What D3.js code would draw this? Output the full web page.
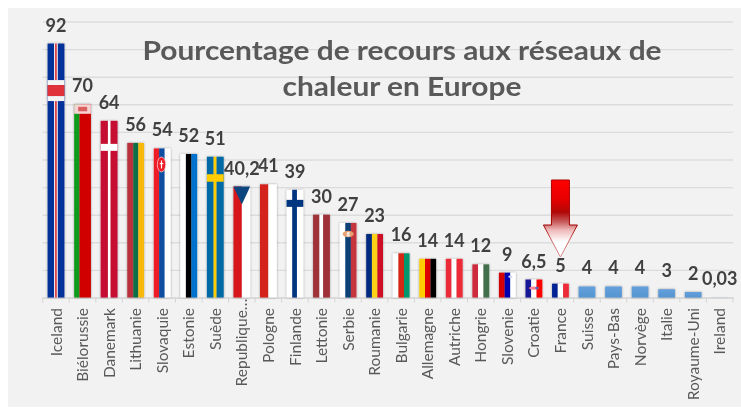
<!DOCTYPE html>
<html><head><meta charset="utf-8">
<script src="https://cdn.jsdelivr.net/npm/d3@7/dist/d3.min.js"></script>
<style>
html,body{margin:0;padding:0;background:#fff}
svg{display:block;filter:blur(0.35px)}
text{font-family:Lato,"Open Sans",sans-serif}
</style></head><body><div id="chart"></div>
<script>
const categories=["Iceland","Biélorussie","Danemark","Lithuanie","Slovaquie","Estonie","Suède","Republique…","Pologne","Finlande","Lettonie","Serbie","Roumanie","Bulgarie","Allemagne","Autriche","Hongrie","Slovenie","Croatie","France","Suisse","Pays-Bas","Norvège","Italie","Royaume-Uni","Ireland"];
const values=[92,70,64,56,54,52,51,40.2,41,39,30,27,23,16,14,14,12,9,6.5,5,4,4,4,3,2,0.03];
const valueLabels=["92","70","64","56","54","52","51","40,2","41","39","30","27","23","16","14","14","12","9","6,5","5","4","4","4","3","2","0,03"];
const titleLines=["Pourcentage de recours aux réseaux de","chaleur en Europe"];
const yTicks=[0,10,20,30,40,50,60,70,80,90,100];

// Flag artwork: [colour, relative width] per vertical stripe
const flagStripes={
 "Iceland":[["#00319a",39],["#f4f4f4",6],["#e0303a",10],["#f4f4f4",6],["#00319a",39]],
 "Biélorussie":[["#0f9b1e",32],["#d00000",68]],
 "Danemark":[["#c60c30",43],["#ffffff",16],["#c60c30",41]],
 "Lithuanie":[["#b9323a",36],["#0f6e48",30],["#f8b90f",34]],
 "Slovaquie":[["#ee1c25",32],["#0b4ea2",33],["#ffffff",35]],
 "Estonie":[["#ffffff",33],["#000000",33],["#0072ce",34]],
 "Suède":[["#006aa7",40],["#fecc00",18],["#006aa7",42]],
 "Republique…":[["#d7141a",50],["#ffffff",50]],
 "Pologne":[["#d4231e",50],["#ffffff",50]],
 "Finlande":[["#ffffff",34],["#003580",28],["#ffffff",38]],
 "Lettonie":[["#9e3039",38],["#ffffff",22],["#9e3039",40]],
 "Serbie":[["#ffffff",34],["#0c4076",33],["#c6363c",33]],
 "Roumanie":[["#002b7f",34],["#fcd116",33],["#ce1126",33]],
 "Bulgarie":[["#ffffff",34],["#d62612",33],["#00966e",33]],
 "Allemagne":[["#ffce00",34],["#dd0000",33],["#000000",33]],
 "Autriche":[["#ed2939",34],["#ffffff",30],["#ed2939",36]],
 "Hongrie":[["#cd2a3e",34],["#ffffff",32],["#436f4d",34]],
 "Slovenie":[["#d50000",34],["#0000b0",34],["#ffffff",32]],
 "Croatie":[["#171796",34],["#ffffff",32],["#ff0000",34]],
 "France":[["#002395",34],["#ffffff",32],["#ed2939",34]]
};

const W=741,H=410;
const svg=d3.select("#chart").append("svg").attr("width",W).attr("height",H);
const defs=svg.append("defs");
const sh=defs.append("filter").attr("id","sh").attr("x","-30%").attr("y","-10%").attr("width","160%").attr("height","120%");
sh.append("feDropShadow").attr("dx",0).attr("dy",0).attr("stdDeviation",1.3).attr("flood-color","#000").attr("flood-opacity",0.38);
const lg=defs.append("linearGradient").attr("id","plain").attr("x1",0).attr("x2",0).attr("y1",0).attr("y2",1);
lg.append("stop").attr("offset",0).attr("stop-color","#649fdb");
lg.append("stop").attr("offset",1).attr("stop-color","#5595d2");
const ag=defs.append("linearGradient").attr("id","arrowFill").attr("gradientUnits","userSpaceOnUse").attr("x1",0).attr("x2",0).attr("y1",180).attr("y2",257);
[[0,"#ff0000"],[0.25,"#e80000"],[0.42,"#b00808"],[0.55,"#c86060"],[0.65,"#eeb8b8"],[0.8,"#ffffff"],[1,"#ffffff"]].forEach(s=>ag.append("stop").attr("offset",s[0]).attr("stop-color",s[1]));
const as=defs.append("linearGradient").attr("id","arrowStroke").attr("gradientUnits","userSpaceOnUse").attr("x1",0).attr("x2",0).attr("y1",180).attr("y2",257);
[[0,"#b00000"],[0.6,"#a00000"],[0.8,"#cc6a6a"],[1,"#d89090"]].forEach(s=>as.append("stop").attr("offset",s[0]).attr("stop-color",s[1]));

svg.append("rect").attr("x",8).attr("y",8).attr("width",W-8).attr("height",H-11).attr("fill","#f2f2f2");

const x=d3.scaleBand().domain(categories).range([42.7,733]).paddingInner(0.37).paddingOuter(0.185);
const y=d3.scaleLinear().domain([0,100]).range([297.5,21.5]);

// Gridlines
const grid=svg.append("g").attr("transform","translate(42.7,0)").call(d3.axisLeft(y).tickValues(yTicks).tickSize(-(733-42.7)).tickFormat(""));
grid.select(".domain").remove();
grid.selectAll("line").attr("stroke","#dcdcdc").attr("stroke-width",1.4);

// Axis: labels + ticks at band boundaries
const axis=svg.append("g").attr("transform",`translate(0,${y(0)})`).call(d3.axisBottom(x).tickSize(0));
axis.select(".domain").attr("stroke","#d4d4d4").attr("stroke-width",1);
axis.selectAll("text").attr("fill","#595959").attr("font-size",15.5)
  .attr("text-anchor","end").attr("transform","rotate(-90)").attr("x",d=>d.endsWith("…")?-1:-10.5).attr("y",0).attr("dy","0.36em");
const step=x.step();
const bounds=d3.range(categories.length+1).map(i=>x(categories[0])+i*step-(step-x.bandwidth())/2);
svg.append("g").selectAll("line").data(bounds).join("line")
  .attr("x1",d=>d).attr("x2",d=>d).attr("y1",y(0)).attr("y2",y(0)+5).attr("stroke","#d4d4d4");

// Bars
const row=categories.map((c,i)=>({c,v:values[i],l:valueLabels[i]}));
const bars=svg.append("g").attr("filter","url(#sh)").selectAll("g").data(row).join("g").attr("transform",d=>`translate(${x(d.c)},${y(d.v)})`);
const bw=x.bandwidth();
const hOf=d=>y(0)-y(d.v);
bars.each(function(d){
  const g=d3.select(this),st=flagStripes[d.c];
  if(!st){g.append("rect").attr("width",bw).attr("height",hOf(d)).attr("fill","url(#plain)");return;}
  const tot=d3.sum(st,s=>s[1]);let a=0;
  st.forEach(s=>{g.append("rect").attr("x",a/tot*bw).attr("width",s[1]/tot*bw+0.05).attr("height",hOf(d)).attr("fill",s[0]);a+=s[1];});
});
const bar=c=>bars.filter(d=>d.c===c);
const band=(c,t,h,f)=>bar(c).append("rect").attr("x",0).attr("y",t).attr("width",bw).attr("height",h).attr("fill",f);
band("Iceland",36.5,5,"#f4f4f4");band("Iceland",41.5,11,"#e0303a");band("Iceland",52.5,5,"#f4f4f4");
band("Biélorussie",0,9.5,"#f5d4d4");
bar("Biélorussie").append("rect").attr("x",4).attr("y",2.5).attr("width",9).attr("height",4.5).attr("fill","#dc6060");
band("Danemark",23,7,"#ffffff");
band("Suède",17.5,7.5,"#fecc00");
band("Finlande",10,7,"#003580");
// Czech triangle
bar("Republique…").append("path").attr("d",`M0,0H${bw}L${bw/2},18Z`).attr("fill","#11457e");
// Slovak emblem
const sk=bar("Slovaquie");
sk.append("ellipse").attr("cx",bw*0.46).attr("cy",16).attr("rx",4.2).attr("ry",7.5).attr("fill","#ee1c25").attr("stroke","#f3d0d6").attr("stroke-width",0.8);
sk.append("rect").attr("x",bw*0.46-0.6).attr("y",12).attr("width",1.2).attr("height",8).attr("fill","#fff");
sk.append("rect").attr("x",bw*0.46-1.8).attr("y",14.5).attr("width",3.6).attr("height",1.2).attr("fill","#fff");
// Serbian emblem
const rs=bar("Serbie");
rs.append("ellipse").attr("cx",bw*0.6-1.5).attr("cy",11).attr("rx",5.5).attr("ry",3.2).attr("fill","#e8a070");
rs.append("rect").attr("x",bw*0.6-3).attr("y",9).attr("width",3).attr("height",4.5).attr("fill","#f5e4dc");
// Slovene emblem
bar("Slovenie").append("ellipse").attr("cx",bw*0.68).attr("cy",4).attr("rx",2).attr("ry",1.2).attr("fill","#cfd4ff");
// Croatian emblem
const hr=bar("Croatie");
hr.append("ellipse").attr("cx",bw*0.5).attr("cy",8.5).attr("rx",4.8).attr("ry",1.6).attr("fill","#ff8090");
hr.append("ellipse").attr("cx",bw*0.68).attr("cy",8.5).attr("rx",1.6).attr("ry",1.4).attr("fill","#5060b8");

// Data labels
svg.append("g").selectAll("text").data(row).join("text")
  .attr("x",d=>x(d.c)+bw/2).attr("y",d=>y(d.v)-12).attr("text-anchor","middle")
  .attr("font-size",18).attr("font-weight",700).attr("fill","#404040").text(d=>d.l);

// Title
svg.append("g").selectAll("text").data(titleLines).join("text")
  .attr("transform",(d,i)=>`translate(402,${59.5+i*36}) scale(1.128,1)`).attr("text-anchor","middle")
  .attr("font-size",26.5).attr("font-weight",700).attr("fill","#595959").text(d=>d);

// Arrow marker pointing at France
const ax=x("France")+bw/2;
const arrow=d3.path();
arrow.moveTo(ax-9,180);arrow.lineTo(ax+9,180);arrow.lineTo(ax+9,225);arrow.lineTo(ax+17,225);arrow.lineTo(ax,257);arrow.lineTo(ax-17,225);arrow.lineTo(ax-9,225);arrow.closePath();
svg.append("path").attr("d",arrow.toString()).attr("fill","url(#arrowFill)").attr("stroke","url(#arrowStroke)").attr("stroke-width",1);
</script></body></html>
